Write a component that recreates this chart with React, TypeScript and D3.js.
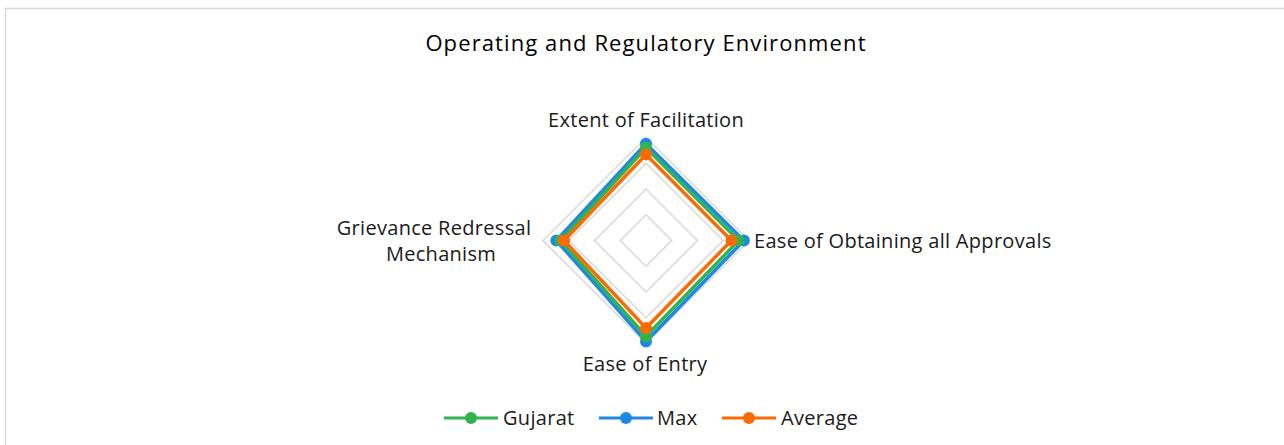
import React from "react";
import * as d3 from "d3";

// axes, clockwise from the top
const axes = [
  "Extent of Facilitation",
  "Ease of Obtaining all Approvals",
  "Ease of Entry",
  "Grievance Redressal Mechanism",
];
const gujarat = [0.9, 0.9, 0.93, 0.83];
const maxValues = [0.94, 0.95, 0.98, 0.87];
const average = [0.835, 0.83, 0.85, 0.795];
const gridTicks = [0.25, 0.5, 0.75, 1];

const series = [
  { name: "Gujarat", values: gujarat, color: "#31b44f" },
  { name: "Max", values: maxValues, color: "#1e88e5" },
  { name: "Average", values: average, color: "#fb6a05" },
];

const W = 1284;
const H = 445;
const cx = 646;
const cy = 240.5;
const font = "'Open Sans', sans-serif";

export default function App() {
  const r = d3.scaleLinear().domain([0, 1]).range([0, 103]);
  const angle = (i: number) => (i * 2 * Math.PI) / axes.length;

  const radial = d3
    .lineRadial<number>()
    .angle((_, i) => angle(i))
    .radius((d) => r(d))
    .curve(d3.curveLinearClosed);

  const pt = (v: number, i: number) => [
    cx + r(v) * Math.sin(angle(i)),
    cy - r(v) * Math.cos(angle(i)),
  ];

  // legend layout
  const legendItems = [
    { x: 444, textX: 503 },
    { x: 599, textX: 657 },
    { x: 722, textX: 781 },
  ];

  return (
    <svg
      width={W}
      height={H}
      style={{ position: "absolute", left: 0, top: 0, background: "#fff" }}
    >
      <rect x={5.5} y={8.5} width={W} height={H} fill="#fff" stroke="#d9d9d9" strokeWidth={1.5} />

      <text x={646} y={51} textAnchor="middle" fontFamily={font} fontSize={22} fontWeight={500} letterSpacing={1.1} fill="#000">
        Operating and Regulatory Environment
      </text>

      {/* grid */}
      <g transform={`translate(${cx},${cy})`}>
        {gridTicks.map((t) => (
          <path
            key={t}
            d={radial(axes.map(() => t)) || ""}
            fill="none"
            stroke="#d9d9d9"
            strokeWidth={1.5}
          />
        ))}
      </g>

      {/* series lines */}
      <g transform={`translate(${cx},${cy})`}>
        {[1, 0, 2].map((k) => (
          <path
            key={series[k].name}
            d={radial(series[k].values) || ""}
            fill="none"
            stroke={series[k].color}
            strokeWidth={3.5}
            strokeLinejoin="round"
          />
        ))}
      </g>

      {/* markers */}
      {[1, 0, 2].map((k) =>
        series[k].values.map((v, i) => {
          const [x, y] = pt(v, i);
          return <circle key={`${k}-${i}`} cx={x} cy={y} r={6} fill={series[k].color} />;
        })
      )}

      {/* axis labels */}
      <g fontFamily={font} fontSize={20} letterSpacing={0.3} fill="#1a1a1a">
        <text x={646} y={127} textAnchor="middle">{axes[0]}</text>
        <text x={754} y={248} textAnchor="start">{axes[1]}</text>
        <text x={645} y={371} textAnchor="middle">{axes[2]}</text>
        <text x={434} y={235} textAnchor="middle">Grievance Redressal</text>
        <text x={441} y={261} textAnchor="middle">Mechanism</text>
      </g>

      {/* legend */}
      <g fontFamily={font} fontSize={20} letterSpacing={0.3} fill="#1a1a1a">
        {series.map((s, i) => (
          <g key={s.name}>
            <line
              x1={legendItems[i].x}
              x2={legendItems[i].x + 54}
              y1={418}
              y2={418}
              stroke={s.color}
              strokeWidth={3}
            />
            <circle cx={legendItems[i].x + 27} cy={418} r={6} fill={s.color} />
            <text x={legendItems[i].textX} y={425}>{s.name}</text>
          </g>
        ))}
      </g>
    </svg>
  );
}
